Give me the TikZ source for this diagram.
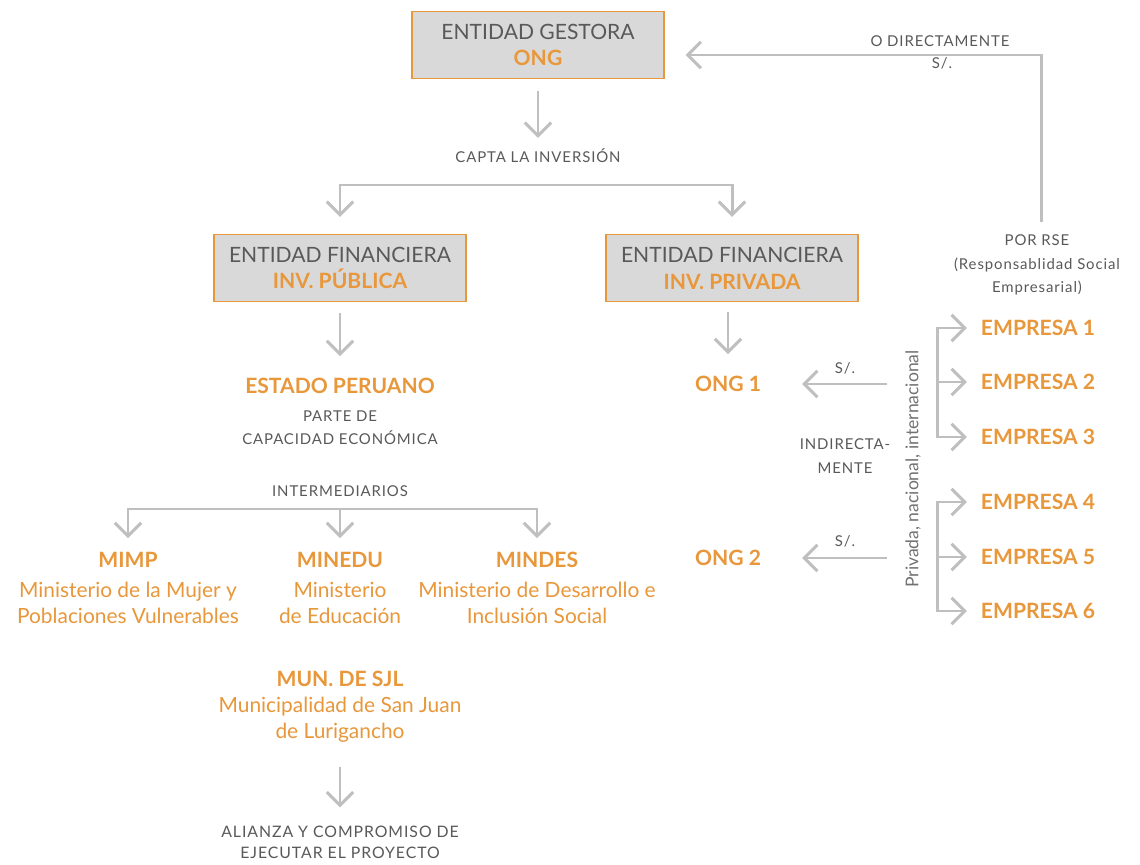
\documentclass[tikz,border=0pt]{standalone}
\usepackage{fontspec}
\setmainfont{Lato}
\usetikzlibrary{arrows.meta}
\definecolor{naranja}{HTML}{E8973A}
\definecolor{grislinea}{HTML}{BFBFBF}
\definecolor{gristexto}{HTML}{595959}
\definecolor{grisfondo}{HTML}{D9D9D9}

\begin{document}
\begin{tikzpicture}[x=0.02cm,y=-0.02cm,
  caja/.style={draw=naranja,line width=0.85pt,fill=grisfondo,minimum width=5.04cm,minimum height=1.34cm,
    align=center,text=gristexto,font=\fontsize{12}{15.3}\selectfont},
  titulo/.style={text=naranja,font=\fontsize{12}{15}\selectfont\bfseries},
  etiqueta/.style={text=gristexto,align=center,font=\fontsize{8.5}{13.2}\selectfont\addfontfeature{LetterSpace=6}},
  detalle/.style={text=naranja,align=center,font=\fontsize{11.9}{14.7}\selectfont},
  empresa/.style={titulo,minimum width=2.4cm},
  linea/.style={draw=grislinea,line width=1.7pt},
  flecha/.style={linea,-{Straight Barb[length=7.5pt,width=15pt]}}]
\useasboundingbox[fill=white] (0,0) rectangle (1140,865);

% cabecera
\node[caja] (ges) at (538,45) {ENTIDAD GESTORA\\{\color{naranja}\bfseries ONG}};
\node[etiqueta] (capta) at (538,156) {CAPTA LA INVERSIÓN};
\node[caja] (pub) at (340,268) {ENTIDAD FINANCIERA\\{\color{naranja}\bfseries INV. PÚBLICA}};
\node[caja] (priv) at (732,268) {ENTIDAD FINANCIERA\\{\color{naranja}\bfseries INV. PRIVADA}};
\coordinate (brC) at (538,185);

\draw[flecha,shorten <=0.24cm,shorten >=0.1cm] (ges) -- (capta);
\draw[flecha,shorten >=0.34cm] (brC) -| (pub);
\draw[flecha,shorten >=0.34cm] (brC) -| (priv);

% inversion publica
\node[titulo] (estado) at (340,386) {ESTADO PERUANO};
\node[etiqueta] (parte) at (340,428) {PARTE DE\\CAPACIDAD ECONÓMICA};
\node[etiqueta] (inter) at (340,491) {INTERMEDIARIOS};
\coordinate (brM) at (340,509);
\draw[flecha,shorten <=0.22cm,shorten >=0.32cm] (pub) -- (estado);

\node[titulo] (mimp) at (128,560) {MIMP};
\node[detalle] (mimpD) at (128,603) {Ministerio de la Mujer y\\Poblaciones Vulnerables};
\node[titulo] (minedu) at (340,560) {MINEDU};
\node[detalle] (mineduD) at (340,603) {Ministerio\\de Educación};
\node[titulo] (mindes) at (537,560) {MINDES};
\node[detalle] (mindesD) at (537,603) {Ministerio de Desarrollo e\\Inclusión Social};
\draw[flecha,shorten >=0.16cm] (brM) -| (mimp);
\draw[flecha,shorten >=0.16cm] (brM) -- (minedu);
\draw[flecha,shorten >=0.16cm] (brM) -| (mindes);

\node[titulo] (mun) at (340,679) {MUN. DE SJL};
\node[detalle] (munD) at (340,720) {Municipalidad de San Juan\\de Lurigancho};
\node[etiqueta,font=\fontsize{9}{12}\selectfont\addfontfeature{LetterSpace=6}] (alianza) at (340,842) {ALIANZA Y COMPROMISO DE\\EJECUTAR EL PROYECTO};
\draw[flecha,shorten <=0.36cm,shorten >=0.24cm] (munD) -- (alianza);

% inversion privada
\node[titulo] (ong1) at (728,384) {ONG 1};
\node[titulo] (ong2) at (728,558) {ONG 2};
\draw[flecha,shorten <=0.2cm,shorten >=0.32cm] (ong1 |- priv.south) -- (ong1);
\coordinate (f1) at (887,384);
\coordinate (f2) at (887,558);
\node[etiqueta] (s1) at (845,368) {S/.};
\node[etiqueta] (s2) at (845,541) {S/.};
\draw[flecha,shorten >=0.7cm] (f1) -- (ong1);
\draw[flecha,shorten >=0.7cm] (f2) -- (ong2);
\node[etiqueta] (indir) at (845,456) {INDIRECTA-\\MENTE};
\node[text=gristexto!85,rotate=90,font=\fontsize{10}{12}\selectfont] (ambito) at (913,469) {Privada, nacional, internacional};

\node[empresa] (emp1) at (1038,328) {EMPRESA 1};
\node[empresa] (emp2) at (1038,382) {EMPRESA 2};
\node[empresa] (emp3) at (1038,437) {EMPRESA 3};
\node[empresa] (emp4) at (1038,502) {EMPRESA 4};
\node[empresa] (emp5) at (1038,557) {EMPRESA 5};
\node[empresa] (emp6) at (1038,611) {EMPRESA 6};
\coordinate (k1) at (937,382);
\coordinate (k2) at (937,557);
\foreach \e in {emp1,emp2,emp3}
  \draw[flecha,shorten >=0.16cm] (k1) |- (\e);
\foreach \e in {emp4,emp5,emp6}
  \draw[flecha,shorten >=0.16cm] (k2) |- (\e);

% directo por RSE
\node[etiqueta] (rse) at (1037,265) {POR RSE\\(Responsablidad Social\\Empresarial)};
\node[etiqueta] (odir) at (940,41) {O DIRECTAMENTE};
\node[etiqueta] (sd) at (942,63) {S/.};
\coordinate (t0) at (1041,222);
\draw[flecha,shorten >=0.42cm] (t0) |- ([yshift=-0.2cm]ges.east);
\end{tikzpicture}
\end{document}
